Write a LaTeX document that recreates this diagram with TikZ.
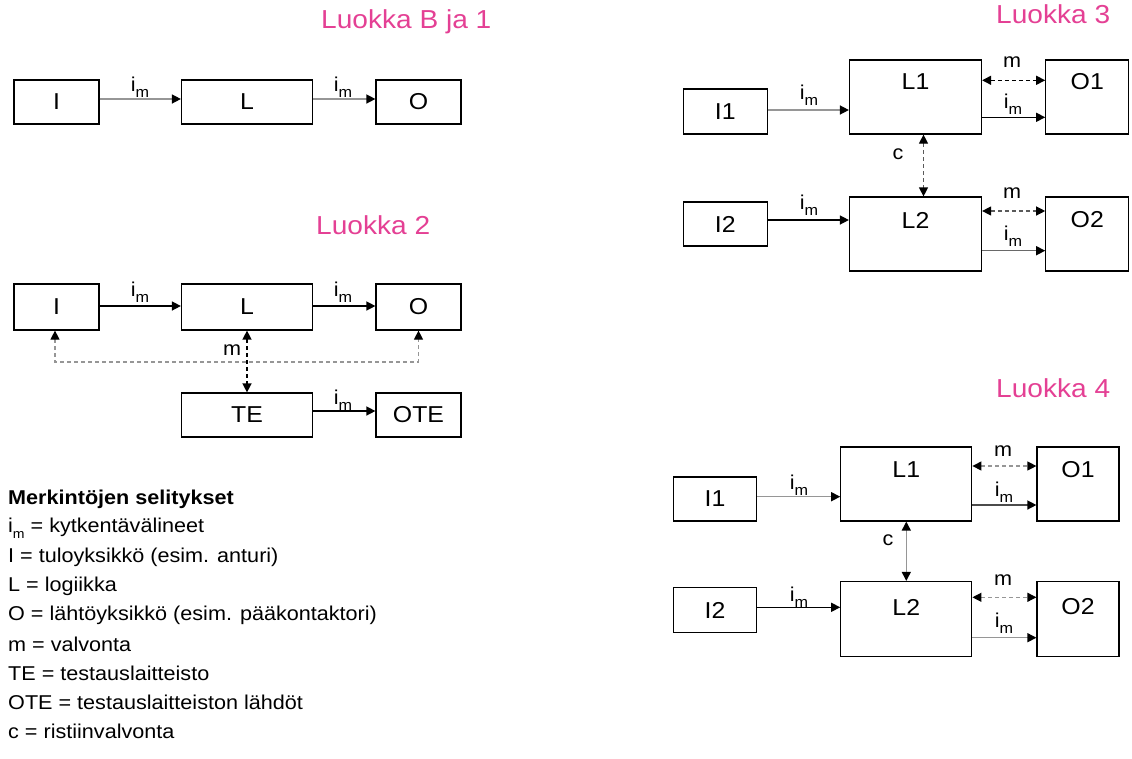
\documentclass[tikz,border=0pt]{standalone}
\usepackage{fontspec}
\setmainfont[FakeStretch=1.08]{Liberation Sans}
\usetikzlibrary{arrows.meta}
\definecolor{pinkt}{RGB}{228,64,148}
\definecolor{gline}{RGB}{150,150,150}
\newcommand{\imsub}{i\raisebox{-0.3em}{\fontsize{15}{15}\selectfont m}}
\newcommand{\imleg}{i\raisebox{-0.3em}{\fontsize{13}{13}\selectfont m}}
\begin{document}
\begin{tikzpicture}[x=1pt,y=-1pt,
  box/.style={draw, line width=1.2pt, inner sep=0pt, font=\fontsize{23}{23}\selectfont},
  sbox/.style={box, minimum width=85pt, minimum height=45pt},
  lbox/.style={box, minimum width=131pt, minimum height=45pt},
  bbox/.style={box, minimum width=132pt, minimum height=74pt},
  obox/.style={box, minimum width=83pt, minimum height=74pt},
  inl/.style={font=\fontsize{23}{23}\selectfont},
  ttl/.style={text=pinkt, font=\fontsize{26}{26}\selectfont, anchor=west, inner sep=0pt},
  lab/.style={font=\fontsize{20}{20}\selectfont, inner sep=0pt},
  leg/.style={font=\fontsize{20}{20}\selectfont, anchor=west, inner sep=0pt},
  arr/.style={-{Triangle[length=9pt,width=9pt,color=black]}, line width=1.4pt},
  darr/.style={{Triangle[length=9pt,width=9pt,color=black]}-{Triangle[length=9pt,width=9pt,color=black]}, line width=1.4pt},
  dsh/.style={dash pattern=on 4pt off 3pt}
]
\useasboundingbox (0,0) rectangle (1132,758);

% ---------------- Luokka B ja 1
\node[ttl] (t1) at (321,22) {Luokka B ja 1};
\node[sbox, minimum height=44pt] (aI) at (56.5,102) {I};
\node[lbox, minimum height=44pt] (aL) at (247,102) {L};
\node[sbox, minimum height=44pt] (aO) at (418.5,102) {O};
\draw[arr, gline] ([yshift=3pt]aI.east) -- ([yshift=3pt]aI.east -| aL.west);
\draw[arr, gline] ([yshift=3pt]aL.east) -- ([yshift=3pt]aL.east -| aO.west);
\node[lab] (aim1) at (140,87) {\imsub};
\node[lab] (aim2) at (343,87) {\imsub};

% ---------------- Luokka 2
\node[ttl] (t2) at (316,225) {Luokka 2};
\node[sbox, minimum height=46pt] (bI) at (56.5,307) {I};
\node[lbox, minimum height=46pt] (bL) at (247,307) {L};
\node[sbox, minimum height=46pt] (bO) at (418.5,307) {O};
\node[lbox, minimum height=44pt] (bTE) at (247,415) {TE};
\node[sbox, minimum height=44pt] (bOTE) at (418.5,415) {OTE};
\draw[arr] ([yshift=1pt]bI.east) -- ([yshift=1pt]bI.east -| bL.west);
\draw[arr] ([yshift=1pt]bL.east) -- ([yshift=1pt]bL.east -| bO.west);
\draw[arr] ([yshift=4pt]bTE.east) -- ([yshift=4pt]bTE.east -| bOTE.west);
\coordinate (bm) at (247,362);
\draw[darr, gline, dsh, line width=1.2pt] ([xshift=-1.5pt]bI.south) |- (bm) -| (bO.south);
\draw[darr, dsh] (bL.south) -- (bTE.north);
\node[lab] (bim1) at (140,292) {\imsub};
\node[lab] (bim2) at (343,292) {\imsub};
\node[lab] (bim3) at (343,400) {\imsub};
\node[lab] (bmm) at (232,350) {m};

% ---------------- Luokka 3
\node[ttl] (t3) at (996,14) {Luokka 3};
\node[sbox, minimum width=84pt, minimum height=45pt] (cI1) at (725.3,111.5) {I1};
\node[bbox, label={[inl, yshift=15pt]center:L1}] (cL1) at (915.5,97) {};
\node[obox, label={[inl, yshift=15pt]center:O1}] (cO1) at (1087.3,97) {};
\node[sbox, minimum width=84pt, minimum height=44pt] (cI2) at (725.3,224) {I2};
\node[bbox, label={[inl, yshift=14pt]center:L2}] (cL2) at (915.5,234) {};
\node[obox, label={[inl, yshift=14pt]center:O2}] (cO2) at (1087.3,234) {};
\draw[arr, gline] ([yshift=1.5pt]cI1.east) -- ([yshift=1.5pt]cI1.east -| cL1.west);
\draw[arr] ([yshift=4pt]cI2.east) -- ([yshift=4pt]cI2.east -| cL2.west);
\draw[darr, dsh] ([yshift=16.7pt]cL1.east) -- ([yshift=16.7pt]cL1.east -| cO1.west);
\draw[arr] ([yshift=-20.3pt]cL1.east) -- ([yshift=-20.3pt]cL1.east -| cO1.west);
\draw[darr, dsh, gline!60!black, line width=1.2pt] ([yshift=23pt]cL2.east) -- ([yshift=23pt]cL2.east -| cO2.west);
\draw[arr, gline!70!black] ([yshift=-16.7pt]cL2.east) -- ([yshift=-16.7pt]cL2.east -| cO2.west);
\draw[darr, dsh, gline!60!black, line width=1.2pt] ([xshift=8pt]cL1.south) -- ([xshift=8pt]cL2.north);
\node[lab] (cim1) at (809,95) {\imsub};
\node[lab] (cim2) at (809,205) {\imsub};
\node[lab] (cm1) at (1012,62) {m};
\node[lab] (cim3) at (1013,104) {\imsub};
\node[lab] (cm2) at (1012,193) {m};
\node[lab] (cim4) at (1013,236) {\imsub};
\node[lab] (cc) at (898,154) {c};

% ---------------- Luokka 4
\node[ttl] (t4) at (996,388) {Luokka 4};
\node[sbox, minimum width=83pt, minimum height=44pt] (dI1) at (715,499) {I1};
\node[bbox, minimum width=131pt, label={[inl, yshift=14pt]center:L1}] (dL1) at (906.3,484) {};
\node[obox, minimum width=82pt, label={[inl, yshift=14pt]center:O1}] (dO1) at (1078,484) {};
\node[sbox, minimum width=83pt, minimum height=45pt] (dI2) at (715,610) {I2};
\node[bbox, minimum width=131pt, minimum height=75pt, label={[inl, yshift=12pt]center:L2}] (dL2) at (906.3,619) {};
\node[obox, minimum width=82pt, minimum height=75pt, label={[inl, yshift=12pt]center:O2}] (dO2) at (1078,619) {};
\draw[arr, gline] ([yshift=2.3pt]dI1.east) -- ([yshift=2.3pt]dI1.east -| dL1.west);
\draw[arr] ([yshift=2.7pt]dI2.east) -- ([yshift=2.7pt]dI2.east -| dL2.west);
\draw[darr, dsh, gline, line width=1.2pt] ([yshift=18pt]dL1.east) -- ([yshift=18pt]dL1.east -| dO1.west);
\draw[arr, gline!50!black] ([yshift=-21pt]dL1.east) -- ([yshift=-21pt]dL1.east -| dO1.west);
\draw[darr, dsh, gline, line width=1.2pt] ([yshift=21.7pt]dL2.east) -- ([yshift=21.7pt]dL2.east -| dO2.west);
\draw[arr, gline] ([yshift=-18.7pt]dL2.east) -- ([yshift=-18.7pt]dL2.east -| dO2.west);
\draw[darr, gline] (dL1.south) -- (dL2.north);
\node[lab] (dim1) at (799,485) {\imsub};
\node[lab] (dim2) at (799,597) {\imsub};
\node[lab] (dm1) at (1003,451) {m};
\node[lab] (dim3) at (1004,492) {\imsub};
\node[lab] (dm2) at (1003,580) {m};
\node[lab] (dim4) at (1004,623) {\imsub};
\node[lab] (dc) at (888,540) {c};

% ---------------- Legend
\node[leg, font=\fontsize{20}{20}\selectfont\bfseries] (g0) at (8,499) {Merkintöjen selitykset};
\node[leg] (g1) at (8,528) {\imleg{} = kytkentävälineet};
\node[leg] (g2) at (8,557) {I = tuloyksikkö (esim. anturi)};
\node[leg] (g3) at (8,586) {L = logiikka};
\node[leg] (g4) at (8,615) {O = lähtöyksikkö (esim. pääkontaktori)};
\node[leg] (g5) at (8,644) {m = valvonta};
\node[leg] (g6) at (8,673) {TE = testauslaitteisto};
\node[leg] (g7) at (8,702) {OTE = testauslaitteiston lähdöt};
\node[leg] (g8) at (8,731) {c = ristiinvalvonta};
\end{tikzpicture}
\end{document}
